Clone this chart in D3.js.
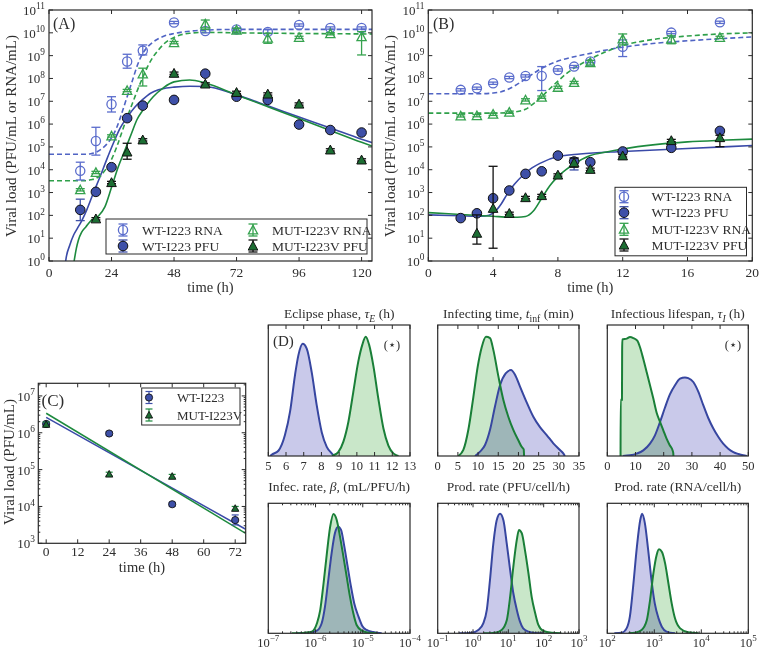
<!DOCTYPE html>
<html><head><meta charset="utf-8">
<script src="https://cdn.jsdelivr.net/npm/d3@7"></script>
<style>
body{margin:0;background:#fff}
text{font-family:"Liberation Serif","Times New Roman",serif;fill:#2e2e2e}
</style>
</head><body><script>
// ================= DATA (values as log10) =================
// Panel A
const tA = [12,18,24,30,36,48,60,72,84,96,108,120];
const wtRnaA = [3.95,5.26,6.87,8.74,9.22,10.45,10.08,10.15,10.04,10.34,10.21,10.21];
const wtRnaA_dn = [0.40,0.62,0.34,0.29,0.19,0.05,0.08,0.06,0.08,0.05,0.05,0.05];
const wtRnaA_up = [0.38,0.60,0.33,0.32,0.25,0.05,0.06,0.06,0.10,0.05,0.05,0.05];
const wtPfuA = [2.24,3.03,4.11,6.26,6.81,7.06,8.21,7.20,7.06,5.98,5.74,5.63];
const wtPfuA_dn = [0.47,0.05,0.05,0.05,0.05,0.05,0.05,0.05,0.05,0.05,0.05,0.05];
const wtPfuA_up = [0.47,0.05,0.05,0.05,0.05,0.05,0.05,0.05,0.05,0.05,0.05,0.05];
const mutRnaA = [3.12,3.88,5.48,7.47,8.20,9.57,10.39,10.12,9.76,9.80,9.96,9.83];
const mutRnaA_dn = [0.05,0.05,0.05,0.05,0.53,0.05,0.24,0.08,0.22,0.05,0.05,0.80];
const mutRnaA_up = [0.05,0.05,0.05,0.05,0.25,0.05,0.17,0.08,0.22,0.05,0.05,0.22];
const tA_mutPfu = [18,24,30,36,48,60,72,84,96,108,120];
const mutPfuA = [1.85,3.44,4.78,5.31,8.23,7.76,7.39,7.32,6.88,4.87,4.43];
const mutPfuA_dn = [0.05,0.05,0.32,0.05,0.05,0.05,0.05,0.05,0.05,0.05,0.05];
const mutPfuA_up = [0.05,0.05,0.38,0.05,0.05,0.05,0.05,0.05,0.05,0.05,0.05];
// model fits A
const fitA_t_wtRna = [0,14,16,18,20,22,24,26,28,30,32,34,36,38,40,44,48,54,60,72,124];
const fitA_wtRna = [4.68,4.68,4.70,4.76,4.90,5.10,5.40,5.85,6.50,7.20,7.90,8.60,9.10,9.40,9.60,9.85,9.97,10.07,10.12,10.15,10.15];
const fitA_t_mutRna = [0,14,16,18,20,22,24,26,28,30,32,34,36,38,40,42,44,48,54,60,72,124];
const fitA_mutRna = [3.52,3.52,3.56,3.62,3.78,4.05,4.45,5.00,5.65,6.30,6.90,7.50,8.05,8.55,8.95,9.25,9.50,9.80,9.98,10.02,10.00,9.95];
const fitA_t_wtPfu = [6.0,6.4,8.0,9.5,11,12.5,14.5,17,19.6,22.1,24.7,27.3,30,33,36,39,42,45,48,54,60,72,84,96,108,120,124];
const fitA_wtPfu = [-0.6,0.0,0.7,1.15,1.45,1.75,2.24,2.97,3.69,4.43,5.16,5.82,6.30,6.75,7.08,7.35,7.50,7.58,7.62,7.66,7.65,7.28,6.80,6.31,5.83,5.34,5.19];
const fitA_t_mutPfu = [9.0,9.8,10.5,11.3,12.5,14.2,16.4,18.9,21.5,24.1,26.6,29.2,31.7,33.7,36,40,44,48,54,60,72,84,96,108,120,124];
const fitA_mutPfu = [-0.5,0.1,0.55,0.92,1.25,1.5,1.8,1.96,2.38,3.26,4.13,4.87,5.6,6.18,6.6,7.2,7.6,7.85,7.93,7.8,7.28,6.76,6.24,5.72,5.2,5.04];

// Panel B
const tB = [2,3,4,5,6,7,8,9,10,12,15,18];
const wtRnaB = [7.50,7.57,7.79,8.04,8.11,8.11,8.37,8.52,8.74,9.39,10.01,10.46];
const wtRnaB_dn = [0.05,0.05,0.05,0.05,0.05,0.64,0.05,0.05,0.05,0.43,0.05,0.05];
const wtRnaB_up = [0.05,0.05,0.05,0.05,0.05,0.41,0.05,0.05,0.05,0.30,0.05,0.05];
const wtPfuB = [1.88,2.09,2.75,3.09,3.82,3.93,4.62,4.36,4.33,4.80,4.96,5.70];
const wtPfuB_dn = [0.05,0.05,0.05,0.05,0.05,0.05,0.05,0.37,0.05,0.05,0.05,0.05];
const wtPfuB_up = [0.05,0.05,0.05,0.05,0.05,0.05,0.05,0.15,0.05,0.05,0.05,0.05];
const mutRnaB = [6.36,6.37,6.43,6.52,7.06,7.18,7.61,7.82,8.69,9.73,9.72,9.80];
const mutRnaB_dn = [0.05,0.05,0.05,0.05,0.05,0.05,0.05,0.05,0.10,0.26,0.20,0.05];
const mutRnaB_up = [0.05,0.05,0.05,0.05,0.05,0.05,0.05,0.05,0.10,0.22,0.15,0.05];
const tB_mutPfu = [3,4,5,6,7,8,9,10,12,15,18];
const mutPfuB = [1.22,2.31,2.09,2.78,2.87,3.77,4.31,4.02,4.61,5.28,5.41];
const mutPfuB_dn = [0.48,1.75,0.05,0.05,0.05,0.05,0.20,0.05,0.05,0.05,0.40];
const mutPfuB_up = [0.80,1.84,0.05,0.05,0.05,0.05,0.20,0.05,0.05,0.05,0.10];
const fitB_t_wtRna = [0,3,4,4.5,5,5.5,6,6.5,7,7.5,8,9,10,11,12,14,16,18,20];
const fitB_wtRna = [7.33,7.33,7.36,7.42,7.55,7.75,7.98,8.22,8.45,8.62,8.76,8.95,9.10,9.25,9.37,9.54,9.65,9.74,9.82];
const fitB_t_mutRna = [0,4,5,5.5,6,6.5,7,7.5,8,8.5,9,10,11,12,14,16,18,20];
const fitB_mutRna = [6.48,6.48,6.50,6.55,6.65,6.90,7.20,7.55,7.88,8.20,8.45,8.85,9.18,9.44,9.72,9.86,9.95,10.00];
const fitB_t_wtPfu = [0,2,3,3.5,4,4.5,4.84,5.3,5.86,6.4,6.89,8,9.36,12,16,20];
const fitB_wtPfu = [2.02,1.98,1.96,1.97,2.10,2.50,2.90,3.35,3.77,4.08,4.28,4.58,4.69,4.80,4.93,5.06];
const fitB_t_mutPfu = [0,2,4,5,5.5,6,6.5,7,7.5,8,8.5,9,10,11,12,14,16,18,20];
const fitB_mutPfu = [2.12,2.04,1.96,1.92,1.92,1.95,2.20,2.75,3.30,3.70,4.00,4.25,4.62,4.78,4.91,5.10,5.22,5.29,5.34];

// Panel C
const tC = [0,24,48,72];
const wtC = [6.24,5.98,4.06,3.63];
const wtC_dn = [0.05,0.05,0.05,0.13];
const wtC_up = [0.05,0.05,0.05,0.14];
const mutC = [6.23,4.88,4.82,3.95];
const mutC_dn = [0.06,0.05,0.05,0.05];
const mutC_up = [0.06,0.05,0.05,0.05];
const fitC_t = [0,76];
const fitC_wt = [6.42,3.38];
const fitC_mut = [6.53,3.27];

// Panel D histograms (x = parameter value, top row linear; bottom row log10), h = fraction of axis height
const d1_blue_x = [5.1,5.19,5.57,5.94,6.23,6.51,6.70,6.94,7.17,7.45,7.73,8.02,8.30,8.58,8.7];
const d1_blue_h = [0,0.01,0.04,0.16,0.34,0.62,0.77,0.857,0.82,0.64,0.39,0.18,0.07,0.02,0];
const d1_green_x = [8.6,8.67,8.95,9.24,9.52,9.80,10.08,10.31,10.50,10.69,10.93,11.21,11.50,11.78,12.06,12.25,12.35];
const d1_green_h = [0,0.005,0.03,0.11,0.26,0.49,0.72,0.85,0.91,0.85,0.69,0.44,0.21,0.08,0.02,0.005,0];
const d2_blue_x = [9.24,10.48,11.72,12.96,14.2,15.43,16.84,18.16,19.15,20.39,22.04,23.69,25.34,27.0,28.64,30.29,31.1,31.5];
const d2_blue_h = [0,0.033,0.084,0.2,0.38,0.54,0.63,0.656,0.62,0.53,0.41,0.3,0.22,0.16,0.097,0.046,0.02,0];
const d2_green_x = [5.1,6.35,7.59,8.83,9.9,10.9,11.96,12.96,13.78,15.02,16.25,17.49,18.73,19.97,20.8,21.3,21.4];
const d2_green_h = [0,0.046,0.2,0.45,0.68,0.83,0.91,0.9,0.81,0.61,0.43,0.3,0.2,0.12,0.07,0.05,0];
const d3_blue_x = [5.5,8.05,10.4,12.77,15.14,16.9,18.7,20.46,22.2,24.0,25.8,27.55,28.7,30.5,32.3,34.0,35.8,37.6,39.4,41.1,42.9,44.7,46.5,48.2,49.5];
const d3_blue_h = [0,0.005,0.018,0.043,0.094,0.158,0.26,0.37,0.47,0.54,0.59,0.60,0.595,0.565,0.49,0.39,0.29,0.21,0.145,0.094,0.056,0.03,0.015,0.005,0];
const d3_green_x = [4.70,4.74,5.20,5.26,5.33,6.88,8.05,9.23,10.64,11.6,12.77,13.96,15.14,16.3,17.5,18.7,19.86,21.06,22.2,23.2,23.4,23.45];
const d3_green_h = [0,0.43,0.43,0.80,0.89,0.896,0.908,0.90,0.88,0.83,0.74,0.64,0.54,0.44,0.33,0.26,0.196,0.13,0.08,0.04,0.02,0];
const d4_blue_x = [-6.4,-6.12,-5.97,-5.87,-5.80,-5.73,-5.66,-5.59,-5.52,-5.46,-5.39,-5.32,-5.25,-5.18,-5.09,-5.01,-4.92,-4.78,-4.6];
const d4_blue_h = [0,0.005,0.02,0.077,0.205,0.41,0.615,0.77,0.82,0.795,0.667,0.513,0.36,0.23,0.128,0.056,0.026,0.01,0];
const d4_green_x = [-6.5,-6.22,-6.08,-5.97,-5.90,-5.83,-5.76,-5.69,-5.62,-5.55,-5.48,-5.41,-5.34,-5.27,-5.20,-5.13,-5.02,-4.88,-4.7];
const d4_green_h = [0,0.005,0.013,0.077,0.18,0.385,0.615,0.82,0.918,0.87,0.74,0.59,0.435,0.28,0.154,0.064,0.02,0.005,0];
const d5_blue_x = [-0.4,-0.037,0.15,0.29,0.39,0.48,0.575,0.67,0.765,0.86,0.955,1.05,1.14,1.24,1.33,1.42,1.57,1.76,2.0];
const d5_blue_h = [0,0.005,0.026,0.077,0.18,0.41,0.69,0.87,0.92,0.87,0.69,0.487,0.31,0.18,0.09,0.038,0.013,0.003,0];
const d5_green_x = [0.3,0.62,0.81,0.955,1.05,1.14,1.24,1.30,1.38,1.47,1.57,1.66,1.76,1.85,1.99,2.23,2.5];
const d5_green_h = [0,0.005,0.026,0.1,0.28,0.51,0.72,0.795,0.77,0.64,0.46,0.28,0.154,0.064,0.018,0.004,0];
const d6_blue_x = [2.15,2.31,2.41,2.48,2.55,2.63,2.70,2.74,2.80,2.87,2.94,3.01,3.09,3.16,3.26,3.44];
const d6_blue_h = [0,0.005,0.038,0.128,0.36,0.667,0.87,0.92,0.846,0.64,0.41,0.23,0.115,0.051,0.013,0];
const d6_green_x = [2.45,2.59,2.73,2.84,2.91,2.98,3.05,3.10,3.16,3.23,3.30,3.37,3.44,3.55,3.72,3.94];
const d6_green_h = [0,0.005,0.026,0.10,0.256,0.46,0.603,0.646,0.628,0.538,0.385,0.23,0.115,0.038,0.008,0];

const ticksA = [0,24,48,72,96,120];
const ticksB = [0,4,8,12,16,20];
const ticksC = [0,12,24,36,48,60,72];
const ticksD1 = [5,6,7,8,9,10,11,12,13];
const ticksD2 = [0,5,10,15,20,25,30,35];
const ticksD3 = [0,10,20,30,40,50];
const legendA = ["WT-I223 RNA","WT-I223 PFU","MUT-I223V RNA","MUT-I223V PFU"];
const legendC = ["WT-I223","MUT-I223V"];

// ================= STYLE =================
const col = {
  ink:"#2a2a2a",
  blueLine:"#3a4aa8", blueDash:"#5064c4", blueOpen:"#5a6ccc", blueFill:"#3e50a8",
  greenLine:"#1d8a3e", greenDash:"#2fa04a", greenOpen:"#35a24e", greenFill:"#1c6e33",
  hBlue:"#3746a0", hGreen:"#1a7f38", hBlueFill:"#c9c9ea", hGreenFill:"#c9e7c9"
};

const svg = d3.select("body").append("svg").attr("width",760).attr("height",649);
const defs = svg.append("defs");
let clipId = 0;

function frame(g,x0,x1,y0,y1){
  g.append("rect").attr("x",x0).attr("y",y0).attr("width",x1-x0).attr("height",y1-y0)
    .attr("fill","none").attr("stroke",col.ink).attr("stroke-width",1.2);
}
function ln(g,x1,y1,x2,y2,c,w){
  return g.append("line").attr("x1",x1).attr("y1",y1).attr("x2",x2).attr("y2",y2)
    .attr("stroke",c||col.ink).attr("stroke-width",w||1);
}
function clip(x0,x1,y0,y1){
  const id="clip"+(clipId++);
  defs.append("clipPath").attr("id",id).append("rect").attr("x",x0).attr("y",y0).attr("width",x1-x0).attr("height",y1-y0);
  return "url(#"+id+")";
}
function supText(g,x,y,base,exp,anchor,size){
  const t=g.append("text").attr("x",x).attr("y",y).attr("text-anchor",anchor).attr("font-size",size);
  t.append("tspan").text(base);
  t.append("tspan").attr("dy",-size*0.45).attr("font-size",size*0.72).text(exp);
  return t;
}
function rich(g,x,y,parts,anchor,size){
  const t=g.append("text").attr("x",x).attr("y",y).attr("text-anchor",anchor).attr("font-size",size);
  let shift=0;
  parts.forEach(p=>{
    const s=t.append("tspan").text(p.t);
    if(p.i) s.attr("font-style","italic");
    const want = p.sub? size*0.3 : 0;
    if(want!==shift){ s.attr("dy",want-shift); shift=want; }
    if(p.sub) s.attr("font-size",size*0.72);
  });
  return t;
}
function marker(g,x,y,shape,fill,stroke,r,sw){
  if(shape==="circle"){
    g.append("circle").attr("cx",x).attr("cy",y).attr("r",r).attr("fill",fill).attr("stroke",stroke).attr("stroke-width",sw);
  } else {
    g.append("path").attr("d",`M${x},${y-r}L${x+r},${y+r*0.85}L${x-r},${y+r*0.85}Z`)
      .attr("fill",fill).attr("stroke",stroke).attr("stroke-width",sw);
  }
}
function series(g,ts,vals,dn,up,sx,sy,st){
  ts.forEach((t,i)=>{
    const v=vals[i]; if(v==null) return;
    const x=sx(t), yt=sy(Math.pow(10,v+up[i])), yb=sy(Math.pow(10,v-dn[i]));
    ln(g,x,yt,x,yb,st.err,st.ew);
    ln(g,x-st.cap,yt,x+st.cap,yt,st.err,st.ew);
    ln(g,x-st.cap,yb,x+st.cap,yb,st.err,st.ew);
  });
  ts.forEach((t,i)=>{
    const v=vals[i]; if(v==null) return;
    marker(g,sx(t),sy(Math.pow(10,v)),st.shape,st.fill,st.stroke,st.r,st.sw);
  });
}
function legendMark(g,x,y,st,h){
  ln(g,x,y-h,x,y+h,st.err,st.ew);
  ln(g,x-st.cap,y-h,x+st.cap,y-h,st.err,st.ew);
  ln(g,x-st.cap,y+h,x+st.cap,y+h,st.err,st.ew);
  marker(g,x,y,st.shape,st.fill,st.stroke,st.r,st.sw);
}
function curve(g,ts,vals,sx,sy,color,dash,w,cp){
  const pts=ts.map((t,i)=>[t,vals[i]]);
  g.append("path").attr("d",d3.line().x(d=>sx(d[0])).y(d=>sy(Math.pow(10,d[1]))).curve(d3.curveMonotoneX)(pts))
    .attr("fill","none").attr("stroke",color).attr("stroke-width",w).attr("stroke-dasharray",dash||null)
    .attr("clip-path",cp);
}
function logYAxis(g,sy,x0,x1,e0,e1,labelX,size){
  for(let e=e0;e<=e1;e++){
    const y=sy(Math.pow(10,e));
    ln(g,x0,y,x0+4,y); ln(g,x1,y,x1-4,y);
    supText(g,labelX,y+5,"10",String(e),"end",size);
  }
}
function linXAxis(g,sx,ticks,y0,y1,labelY,size){
  ticks.forEach(t=>{
    const x=sx(t);
    ln(g,x,y1,x,y1-4); ln(g,x,y0,x,y0+4);
    g.append("text").attr("x",x).attr("y",labelY).attr("text-anchor","middle").attr("font-size",size).text(t);
  });
}

const stWtRna={shape:"circle",fill:"none",stroke:col.blueOpen,r:4.6,sw:1.3,err:col.blueOpen,ew:1.3,cap:4.5};
const stWtPfu={shape:"circle",fill:col.blueFill,stroke:"#111",r:4.8,sw:1,err:col.blueFill,ew:1.3,cap:4.5};
const stMutRna={shape:"tri",fill:"none",stroke:col.greenOpen,r:4.6,sw:1.3,err:col.greenOpen,ew:1.3,cap:4.5};
const stMutPfu={shape:"tri",fill:col.greenFill,stroke:"#111",r:4.8,sw:1,err:"#111",ew:1.3,cap:4.5};

// ================= PANEL A =================
(function(){
  const X0=49,X1=372,Y0=10,Y1=261;
  const g=svg.append("g");
  const sx=d3.scaleLinear().domain([0,124]).range([X0,X1]);
  const sy=d3.scaleLog().domain([1,1e11]).range([Y1,Y0]);
  const cp=clip(X0,X1,Y0,Y1);
  curve(g,fitA_t_wtRna,fitA_wtRna,sx,sy,col.blueDash,"5,3",1.6,cp);
  curve(g,fitA_t_mutRna,fitA_mutRna,sx,sy,col.greenDash,"5,3",1.6,cp);
  curve(g,fitA_t_wtPfu,fitA_wtPfu,sx,sy,col.blueLine,null,1.6,cp);
  curve(g,fitA_t_mutPfu,fitA_mutPfu,sx,sy,col.greenLine,null,1.6,cp);
  series(g,tA,wtRnaA,wtRnaA_dn,wtRnaA_up,sx,sy,stWtRna);
  series(g,tA,mutRnaA,mutRnaA_dn,mutRnaA_up,sx,sy,stMutRna);
  series(g,tA,wtPfuA,wtPfuA_dn,wtPfuA_up,sx,sy,stWtPfu);
  series(g,tA_mutPfu,mutPfuA,mutPfuA_dn,mutPfuA_up,sx,sy,stMutPfu);
  // legend
  g.append("rect").attr("x",106).attr("y",219).attr("width",261).attr("height",35).attr("fill","#fff").attr("stroke",col.ink).attr("stroke-width",1);
  const st=[stWtRna,stWtPfu,stMutRna,stMutPfu];
  const pos=[[123,230],[123,246],[253,230],[253,246]];
  legendA.forEach((s,i)=>{
    legendMark(g,pos[i][0],pos[i][1],st[i],6);
    g.append("text").attr("x",pos[i][0]+19).attr("y",pos[i][1]+4.5).attr("font-size",13.5).text(s);
  });
  frame(g,X0,X1,Y0,Y1);
  logYAxis(g,sy,X0,X1,0,11,45,13);
  linXAxis(g,sx,ticksA,Y0,Y1,277,13.5);
  g.append("text").attr("x",(X0+X1)/2).attr("y",291.5).attr("text-anchor","middle").attr("font-size",14.5).text("time (h)");
  g.append("text").attr("transform","translate(16,136) rotate(-90)").attr("text-anchor","middle").attr("font-size",15).text("Viral load (PFU/mL or RNA/mL)");
  g.append("text").attr("x",53).attr("y",29).attr("font-size",16).text("(A)");
})();

// ================= PANEL B =================
(function(){
  const X0=428.3,X1=752.3,Y0=10,Y1=261;
  const g=svg.append("g");
  const sx=d3.scaleLinear().domain([0,20]).range([X0,X1]);
  const sy=d3.scaleLog().domain([1,1e11]).range([Y1,Y0]);
  const cp=clip(X0,X1,Y0,Y1);
  curve(g,fitB_t_wtRna,fitB_wtRna,sx,sy,col.blueDash,"5,3",1.6,cp);
  curve(g,fitB_t_mutRna,fitB_mutRna,sx,sy,col.greenDash,"5,3",1.6,cp);
  curve(g,fitB_t_wtPfu,fitB_wtPfu,sx,sy,col.blueLine,null,1.6,cp);
  curve(g,fitB_t_mutPfu,fitB_mutPfu,sx,sy,col.greenLine,null,1.6,cp);
  series(g,tB,wtRnaB,wtRnaB_dn,wtRnaB_up,sx,sy,stWtRna);
  series(g,tB,mutRnaB,mutRnaB_dn,mutRnaB_up,sx,sy,stMutRna);
  series(g,tB,wtPfuB,wtPfuB_dn,wtPfuB_up,sx,sy,stWtPfu);
  series(g,tB_mutPfu,mutPfuB,mutPfuB_dn,mutPfuB_up,sx,sy,stMutPfu);
  g.append("rect").attr("x",615).attr("y",187.3).attr("width",131.5).attr("height",68.5).attr("fill","#fff").attr("stroke",col.ink).attr("stroke-width",1);
  const st=[stWtRna,stWtPfu,stMutRna,stMutPfu];
  const ys=[196.7,212.7,229.3,245];
  legendA.forEach((s,i)=>{
    legendMark(g,624,ys[i],st[i],6);
    g.append("text").attr("x",651.5).attr("y",ys[i]+4.5).attr("font-size",13.5).text(s);
  });
  frame(g,X0,X1,Y0,Y1);
  logYAxis(g,sy,X0,X1,0,11,424.5,13);
  linXAxis(g,sx,ticksB,Y0,Y1,277,13.5);
  g.append("text").attr("x",(X0+X1)/2).attr("y",291.5).attr("text-anchor","middle").attr("font-size",14.5).text("time (h)");
  g.append("text").attr("transform","translate(395,136) rotate(-90)").attr("text-anchor","middle").attr("font-size",15).text("Viral load (PFU/mL or RNA/mL)");
  g.append("text").attr("x",433).attr("y",29).attr("font-size",16).text("(B)");
})();

// ================= PANEL C =================
(function(){
  const X0=38.3,X1=245.7,Y0=383.3,Y1=543.3;
  const g=svg.append("g");
  const sx=d3.scaleLinear().domain([-3,76]).range([X0,X1]);
  const sy=d3.scaleLog().domain([1e3,2.2e7]).range([Y1,Y0]);
  const cp=clip(X0,X1,Y0,Y1);
  curve(g,fitC_t,fitC_wt,sx,sy,col.blueLine,null,1.5,cp);
  curve(g,fitC_t,fitC_mut,sx,sy,col.greenLine,null,1.5,cp);
  const stW={shape:"circle",fill:col.blueFill,stroke:"#111",r:3.6,sw:0.9,err:col.blueFill,ew:1.2,cap:3.5};
  const stM={shape:"tri",fill:col.greenFill,stroke:"#111",r:3.6,sw:0.9,err:col.greenLine,ew:1.2,cap:3.5};
  series(g,tC,wtC,wtC_dn,wtC_up,sx,sy,stW);
  series(g,tC,mutC,mutC_dn,mutC_up,sx,sy,stM);
  g.append("rect").attr("x",141.7).attr("y",388).attr("width",98.3).attr("height",37).attr("fill","#fff").attr("stroke",col.ink).attr("stroke-width",1);
  legendMark(g,149,397.5,stW,6);
  legendMark(g,149,415,stM,6);
  g.append("text").attr("x",177).attr("y",401.5).attr("font-size",13).text(legendC[0]);
  g.append("text").attr("x",177).attr("y",419.5).attr("font-size",13).text(legendC[1]);
  frame(g,X0,X1,Y0,Y1);
  for(let e=3;e<=7;e++){
    const y=sy(Math.pow(10,e));
    ln(g,X0,y,X0+4,y); ln(g,X1,y,X1-4,y);
    supText(g,35,y+5,"10",String(e),"end",13);
    if(e<7) for(let m=2;m<=9;m++){ const ym=sy(m*Math.pow(10,e)); if(ym<Y0) continue; ln(g,X0,ym,X0+2,ym); ln(g,X1,ym,X1-2,ym); }
  }
  const ymm=sy(2e7); ln(g,X0,ymm,X0+2,ymm); ln(g,X1,ymm,X1-2,ymm);
  linXAxis(g,sx,ticksC,Y0,Y1,555.5,13.5);
  g.append("text").attr("x",142).attr("y",571.5).attr("text-anchor","middle").attr("font-size",14.5).text("time (h)");
  g.append("text").attr("transform","translate(14,462) rotate(-90)").attr("text-anchor","middle").attr("font-size",15).text("Viral load (PFU/mL)");
  g.append("text").attr("x",41.5).attr("y",405.5).attr("font-size",17).text("(C)");
})();

// ================= PANEL D =================
function histPanel(X0,X1,Y0,Y1,sx,fx,blueX,blueH,greenX,greenH){
  const g=svg.append("g");
  const sy=d3.scaleLinear().domain([0,1]).range([Y1,Y0]);
  const cp=clip(X0,X1,Y0,Y1);
  const mk=(xs,hs)=>xs.map((x,i)=>[x,hs[i]]);
  const area=d3.area().x(d=>sx(fx(d[0]))).y0(Y1).y1(d=>sy(d[1])).curve(d3.curveMonotoneX);
  const line=d3.line().x(d=>sx(fx(d[0]))).y(d=>sy(d[1])).curve(d3.curveMonotoneX);
  const b=mk(blueX,blueH), gr=mk(greenX,greenH);
  const fills=g.append("g").style("isolation","isolate").attr("clip-path",cp);
  fills.append("path").attr("d",area(b)).attr("fill",col.hBlueFill).style("mix-blend-mode","multiply");
  fills.append("path").attr("d",area(gr)).attr("fill",col.hGreenFill).style("mix-blend-mode","multiply");
  g.append("path").attr("d",line(b)).attr("fill","none").attr("stroke",col.hBlue).attr("stroke-width",2).attr("clip-path",cp);
  g.append("path").attr("d",line(gr)).attr("fill","none").attr("stroke",col.hGreen).attr("stroke-width",2).attr("clip-path",cp);
  frame(g,X0,X1,Y0,Y1);
  return g;
}
function linHistAxis(g,sx,ticks,Y0,Y1){
  ticks.forEach(t=>{
    const x=sx(t);
    ln(g,x,Y1,x,Y1-4); ln(g,x,Y0,x,Y0+4);
    g.append("text").attr("x",x).attr("y",470).attr("text-anchor","middle").attr("font-size",12.5).text(t);
  });
}
function logHistAxis(g,sx,e0,e1,Y0,Y1){
  for(let e=e0;e<=e1;e++){
    const x=sx(Math.pow(10,e));
    ln(g,x,Y1,x,Y1-4); ln(g,x,Y0,x,Y0+4);
    supText(g,x,646.5,"10",(e<0?"\u2212":"")+Math.abs(e),"middle",12.5);
    if(e<e1) for(let m=2;m<=9;m++){ const xm=sx(m*Math.pow(10,e)); ln(g,xm,Y1,xm,Y1-2); ln(g,xm,Y0,xm,Y0+2); }
  }
}
const idf=v=>v, p10=v=>Math.pow(10,v);
const TY0=325, TY1=456, BY0=503.3, BY1=633.3;
const cols=[[268.3,410],[437.7,579],[607.3,748.3]];
// top row
(function(){
  let [a,b]=cols[0]; let sx=d3.scaleLinear().domain([5,13]).range([a,b]);
  let g=histPanel(a,b,TY0,TY1,sx,idf,d1_blue_x,d1_blue_h,d1_green_x,d1_green_h);
  linHistAxis(g,sx,ticksD1,TY0,TY1);
  rich(g,(a+b)/2,318,[{t:"Eclipse phase, "},{t:"\u03C4",i:1},{t:"E",i:1,sub:1},{t:" (h)"}],"middle",13.5);
  g.append("text").attr("x",273).attr("y",346).attr("font-size",15).text("(D)");
  g.append("text").attr("x",392).attr("y",349).attr("text-anchor","middle").attr("font-size",12.5).text("(\u22C6)");
  [a,b]=cols[1]; sx=d3.scaleLinear().domain([0,35]).range([a,b]);
  g=histPanel(a,b,TY0,TY1,sx,idf,d2_blue_x,d2_blue_h,d2_green_x,d2_green_h);
  linHistAxis(g,sx,ticksD2,TY0,TY1);
  rich(g,(a+b)/2,318,[{t:"Infecting time, "},{t:"t",i:1},{t:"inf",sub:1},{t:" (min)"}],"middle",13.5);
  [a,b]=cols[2]; sx=d3.scaleLinear().domain([0,50]).range([a,b]);
  g=histPanel(a,b,TY0,TY1,sx,idf,d3_blue_x,d3_blue_h,d3_green_x,d3_green_h);
  linHistAxis(g,sx,ticksD3,TY0,TY1);
  rich(g,(a+b)/2,318,[{t:"Infectious lifespan, "},{t:"\u03C4",i:1},{t:"I",i:1,sub:1},{t:" (h)"}],"middle",13.5);
  g.append("text").attr("x",733).attr("y",349).attr("text-anchor","middle").attr("font-size",12.5).text("(\u22C6)");
})();
// bottom row
(function(){
  let [a,b]=cols[0]; let sx=d3.scaleLog().domain([1e-7,1e-4]).range([a,b]);
  let g=histPanel(a,b,BY0,BY1,sx,p10,d4_blue_x,d4_blue_h,d4_green_x,d4_green_h);
  logHistAxis(g,sx,-7,-4,BY0,BY1);
  rich(g,(a+b)/2,490.5,[{t:"Infec. rate, "},{t:"\u03B2",i:1},{t:", (mL/PFU/h)"}],"middle",13.5);
  [a,b]=cols[1]; sx=d3.scaleLog().domain([1e-1,1e3]).range([a,b]);
  g=histPanel(a,b,BY0,BY1,sx,p10,d5_blue_x,d5_blue_h,d5_green_x,d5_green_h);
  logHistAxis(g,sx,-1,3,BY0,BY1);
  rich(g,(a+b)/2,490.5,[{t:"Prod. rate (PFU/cell/h)"}],"middle",13.5);
  [a,b]=cols[2]; sx=d3.scaleLog().domain([1e2,1e5]).range([a,b]);
  g=histPanel(a,b,BY0,BY1,sx,p10,d6_blue_x,d6_blue_h,d6_green_x,d6_green_h);
  logHistAxis(g,sx,2,5,BY0,BY1);
  rich(g,(a+b)/2,490.5,[{t:"Prod. rate (RNA/cell/h)"}],"middle",13.5);
})();
</script></body></html>
